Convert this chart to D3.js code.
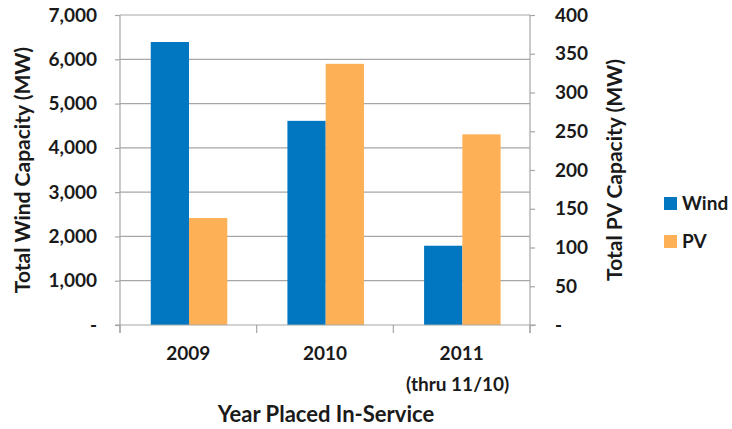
<!DOCTYPE html>
<html><head><meta charset="utf-8">
<script src="https://cdn.jsdelivr.net/npm/d3@7"></script>
<style>body{margin:0;background:#fff}svg{display:block}</style>
</head><body>
<svg id="chart" width="732" height="429"></svg>
<script>
const categories = ["2009", "2010", "2011"];
const categorySublabels = ["", "", "(thru 11/10)"];
const windValues = [6390, 4610, 1790];
const pvValues = [138, 337, 246];
const seriesNames = ["Wind", "PV"];
const seriesColors = ["#0077C0", "#FDB056"];
const leftTicks = [0, 1000, 2000, 3000, 4000, 5000, 6000, 7000];
const rightTicks = [0, 50, 100, 150, 200, 250, 300, 350, 400];

const svg = d3.select("#chart");
const L = 120, R = 530, T = 15, B = 325;
const font = "Lato, 'Open Sans', sans-serif";

const x0 = d3.scaleBand().domain(categories).range([L, R]).padding(0);
const bw = x0.bandwidth();
const x1 = d3.scaleBand().domain(seriesNames).range([bw * 0.225, bw * 0.785]).padding(0);
const yL = d3.scaleLinear().domain([0, 7000]).range([B, T]);
const yR = d3.scaleLinear().domain([0, 400]).range([B, T]);
const fmt = v => v === 0 ? "-" : d3.format(",")(v);

// gridlines
svg.append("g").selectAll("line").data(leftTicks.filter(d => d > 0)).join("line")
  .attr("x1", L).attr("x2", R).attr("y1", d => yL(d)).attr("y2", d => yL(d))
  .attr("stroke", "#a6a6a6").attr("stroke-width", 1.2);

// bars
const data = categories.map((c, i) => ({ c, vals: [
  { s: "Wind", v: windValues[i], y: yL },
  { s: "PV", v: pvValues[i], y: yR }] }));
const g = svg.append("g").selectAll("g").data(data).join("g")
  .attr("transform", d => `translate(${x0(d.c)},0)`);
g.selectAll("rect").data(d => d.vals).join("rect")
  .attr("x", d => x1(d.s)).attr("width", x1.bandwidth())
  .attr("y", d => d.y(d.v)).attr("height", d => B - d.y(d.v))
  .attr("fill", (d, i) => seriesColors[i]);

// left axis
const axL = svg.append("g").attr("transform", `translate(${L},0)`)
  .call(d3.axisLeft(yL).tickValues(leftTicks).tickFormat(fmt).tickSize(5).tickPadding(18));
// right axis
const axR = svg.append("g").attr("transform", `translate(${R},0)`)
  .call(d3.axisRight(yR).tickValues(rightTicks).tickFormat(fmt).tickSize(5).tickPadding(20));
[axL, axR].forEach(a => {
  a.select(".domain").attr("stroke", "#a6a6a6").attr("stroke-width", 1.2)
    .attr("d", `M0,${T}V${B + 8}`);
  a.selectAll(".tick line").attr("stroke", "#a6a6a6").attr("stroke-width", 1.2);
  a.selectAll("text").attr("font-family", font).attr("font-weight", "bold")
    .attr("font-size", 19).attr("fill", "#1a1a1a");
});

// x axis
svg.append("line").attr("x1", L - 5).attr("x2", R + 6).attr("y1", B).attr("y2", B)
  .attr("stroke", "#a6a6a6").attr("stroke-width", 1.2);
svg.append("g").selectAll("line").data(categories.concat(["end"])).join("line")
  .attr("x1", d => d === "end" ? R : x0(d)).attr("x2", d => d === "end" ? R : x0(d))
  .attr("y1", B).attr("y2", B + 8).attr("stroke", "#a6a6a6").attr("stroke-width", 1.2);
svg.append("g").selectAll("text").data(categories).join("text")
  .attr("x", d => x0(d) + bw / 2).attr("y", 360).attr("text-anchor", "middle")
  .attr("font-family", font).attr("font-weight", "bold").attr("font-size", 19)
  .attr("fill", "#1a1a1a").text(d => d);
svg.append("g").selectAll("text").data(categories).join("text")
  .attr("x", d => x0(d) + bw / 2 - 4).attr("y", 391).attr("text-anchor", "middle")
  .attr("font-family", font).attr("font-weight", "bold").attr("font-size", 19)
  .attr("fill", "#1a1a1a").text((d, i) => categorySublabels[i]);

// axis titles
svg.append("text").attr("x", (L + R) / 2 + 1).attr("y", 422).attr("text-anchor", "middle")
  .attr("font-family", font).attr("font-weight", "bold").attr("font-size", 22)
  .attr("fill", "#1a1a1a").text("Year Placed In-Service");
svg.append("text").attr("transform", "translate(30,170) rotate(-90)").attr("text-anchor", "middle")
  .attr("font-family", font).attr("font-weight", "bold").attr("font-size", 21)
  .attr("fill", "#1a1a1a").text("Total Wind Capacity (MW)");
svg.append("text").attr("transform", "translate(622,170) rotate(-90)").attr("text-anchor", "middle")
  .attr("font-family", font).attr("font-weight", "bold").attr("font-size", 21)
  .attr("fill", "#1a1a1a").text("Total PV Capacity (MW)");

// legend
const lg = svg.append("g").selectAll("g").data(seriesNames).join("g")
  .attr("transform", (d, i) => `translate(664,${197 + i * 38})`);
lg.append("rect").attr("width", 13).attr("height", 13).attr("fill", (d, i) => seriesColors[i]);
lg.append("text").attr("x", 18).attr("y", 13).attr("font-family", font).attr("font-weight", "bold")
  .attr("font-size", 19).attr("fill", "#1a1a1a").text(d => d);
</script>
</body></html>
